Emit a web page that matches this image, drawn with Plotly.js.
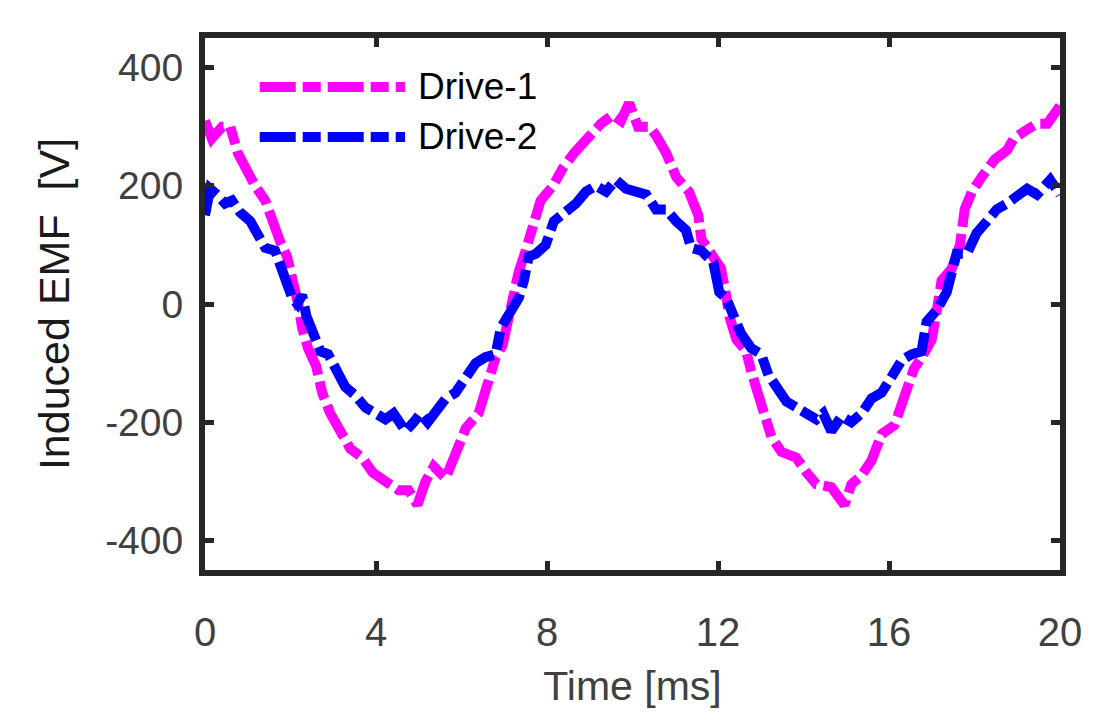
<!DOCTYPE html>
<html>
<head>
<meta charset="utf-8">
<script src="https://cdn.plot.ly/plotly-3.0.1.min.js"></script>
<style>
  html, body { margin: 0; padding: 0; background: #ffffff; }
  #emf-plot { width: 1104px; height: 724px; }
</style>
</head>
<body>
<div id="emf-plot"></div>
<script>
// time in ms, EMF in V
const drive1Time = [0, 0.16, 0.4, 0.59, 0.77, 0.94, 1.17, 1.41, 1.57, 1.76, 1.92, 2.06, 2.18, 2.27, 2.41, 2.6, 2.74, 2.93, 3.17, 3.4, 3.68, 3.92, 4.22, 4.53, 4.76, 4.97, 5.16, 5.35, 5.63, 5.86, 6.1, 6.4, 6.61, 6.8, 6.96, 7.08, 7.2, 7.34, 7.5, 7.69, 7.85, 8.14, 8.37, 8.63, 8.91, 9.26, 9.54, 9.73, 9.92, 10.13, 10.39, 10.55, 10.79, 11.02, 11.32, 11.54, 11.61, 11.84, 12.07, 12.19, 12.26, 12.43, 12.66, 12.78, 12.94, 13.13, 13.25, 13.48, 13.83, 14.07, 14.3, 14.65, 14.96, 15.12, 15.36, 15.59, 15.83, 16.13, 16.37, 16.58, 16.81, 17.0, 17.12, 17.23, 17.47, 17.66, 17.77, 17.94, 18.17, 18.48, 18.76, 18.92, 19.23, 19.46, 19.7, 20.0];
const drive1Emf = [310, 280, 300, 300, 255, 230, 200, 175, 140, 105, 80, 40, 0, -40, -75, -105, -150, -185, -215, -245, -260, -285, -300, -315, -315, -340, -300, -275, -295, -250, -210, -185, -140, -90, -70, -25, 20, 55, 90, 135, 175, 200, 230, 255, 280, 305, 320, 310, 340, 300, 300, 285, 255, 215, 190, 150, 110, 85, 60, 15, -20, -60, -80, -115, -155, -190, -225, -250, -260, -285, -305, -310, -340, -305, -290, -265, -220, -205, -160, -110, -85, -60, -10, 40, 60, 100, 160, 190, 215, 245, 260, 280, 295, 305, 305, 335];

const drive2Time = [0, 0.12, 0.28, 0.47, 0.63, 0.82, 1.06, 1.24, 1.41, 1.64, 1.81, 1.92, 2.04, 2.16, 2.27, 2.37, 2.51, 2.7, 2.88, 3.09, 3.28, 3.52, 3.75, 3.99, 4.22, 4.41, 4.57, 4.69, 4.88, 5.04, 5.21, 5.39, 5.63, 5.86, 6.1, 6.33, 6.56, 6.8, 6.92, 7.15, 7.34, 7.46, 7.57, 7.74, 7.97, 8.16, 8.44, 8.68, 8.91, 9.14, 9.38, 9.61, 9.85, 10.08, 10.32, 10.55, 10.79, 11.02, 11.25, 11.37, 11.61, 11.89, 12.03, 12.19, 12.38, 12.54, 12.78, 13.01, 13.18, 13.36, 13.6, 13.83, 14.07, 14.3, 14.46, 14.65, 14.89, 15.12, 15.36, 15.59, 15.83, 16.06, 16.3, 16.53, 16.76, 16.88, 17.12, 17.35, 17.47, 17.58, 17.82, 18.05, 18.29, 18.52, 18.76, 18.99, 19.23, 19.46, 19.77, 20.0];
const drive2Emf = [150, 195, 185, 170, 175, 155, 140, 115, 95, 90, 60, 30, 10, 0, 15, -20, -50, -80, -85, -110, -140, -155, -175, -185, -195, -185, -200, -215, -200, -185, -200, -180, -160, -150, -125, -100, -90, -85, -40, -10, 10, 40, 80, 85, 100, 140, 155, 170, 190, 200, 190, 210, 195, 190, 185, 160, 160, 140, 125, 95, 90, 70, 20, 10, -20, -50, -75, -85, -120, -140, -165, -175, -185, -195, -185, -215, -190, -200, -185, -160, -150, -125, -95, -85, -80, -30, -10, 20, 50, 85, 85, 120, 140, 160, 170, 185, 195, 185, 210, 185];

const seriesNames = ["Drive-1", "Drive-2"];
const seriesColors = ["#ff00ff", "#0000ff"];
const xTicks = [0, 4, 8, 12, 16, 20];
const yTicks = [-400, -200, 0, 200, 400];

const dashPattern = "36px,7px,18px,7px";
const axisColor = "#262626";

const traces = [
  { x: drive1Time, y: drive1Emf },
  { x: drive2Time, y: drive2Emf }
].map((d, i) => ({
  type: "scatter",
  mode: "lines",
  name: seriesNames[i],
  x: d.x,
  y: d.y,
  showlegend: false,
  line: { color: seriesColors[i], width: 10, dash: dashPattern }
}));

// hand-drawn legend (Plotly's legend samples are too short)
const legendShapes = seriesNames.map((name, i) => ({
  type: "line",
  xref: "paper",
  yref: "paper",
  x0: 0.064,
  x1: 0.234,
  y0: 0.908 - i * 0.094,
  y1: 0.908 - i * 0.094,
  line: { color: seriesColors[i], width: 10, dash: dashPattern }
}));

const legendLabels = seriesNames.map((name, i) => ({
  xref: "paper",
  yref: "paper",
  x: 0.247,
  y: 0.908 - i * 0.094,
  xanchor: "left",
  yanchor: "middle",
  showarrow: false,
  text: name,
  font: { family: "Liberation Sans, Arial, sans-serif", size: 37, color: "#000000" }
}));

const layout = {
  width: 1104,
  height: 724,
  margin: { l: 205, r: 44, t: 38, b: 154 },
  paper_bgcolor: "#ffffff",
  plot_bgcolor: "#ffffff",
  showlegend: false,
  font: { family: "Liberation Sans, Arial, sans-serif", color: "#404040" },
  xaxis: {
    range: [0, 20],
    tickvals: xTicks,
    ticktext: xTicks.map(String),
    ticks: "inside",
    ticklen: 9,
    tickwidth: 5,
    tickcolor: axisColor,
    showline: true,
    linewidth: 6,
    linecolor: axisColor,
    mirror: "ticks",
    showgrid: false,
    zeroline: false,
    ticklabelstandoff: 22,
    tickfont: { family: "Liberation Sans, Arial, sans-serif", size: 40, color: "#404040" },
    title: {
      text: "Time [ms]",
      standoff: 20,
      font: { family: "Liberation Sans, Arial, sans-serif", size: 41, color: "#404040" }
    }
  },
  yaxis: {
    range: [-450, 450],
    tickvals: yTicks,
    ticktext: yTicks.map(String),
    ticks: "inside",
    ticklen: 9,
    tickwidth: 5,
    tickcolor: axisColor,
    showline: true,
    linewidth: 6,
    linecolor: axisColor,
    mirror: "ticks",
    showgrid: false,
    zeroline: false,
    ticklabelstandoff: 8,
    tickfont: { family: "Liberation Sans, Arial, sans-serif", size: 39, color: "#404040" },
    title: {
      text: "Induced EMF  [V]",
      standoff: 24,
      font: { family: "Liberation Sans, Arial, sans-serif", size: 43, color: "#1a1a1a" }
    }
  },
  shapes: legendShapes,
  annotations: legendLabels
};

Plotly.newPlot("emf-plot", traces, layout, { displayModeBar: false, staticPlot: true });
</script>
</body>
</html>
